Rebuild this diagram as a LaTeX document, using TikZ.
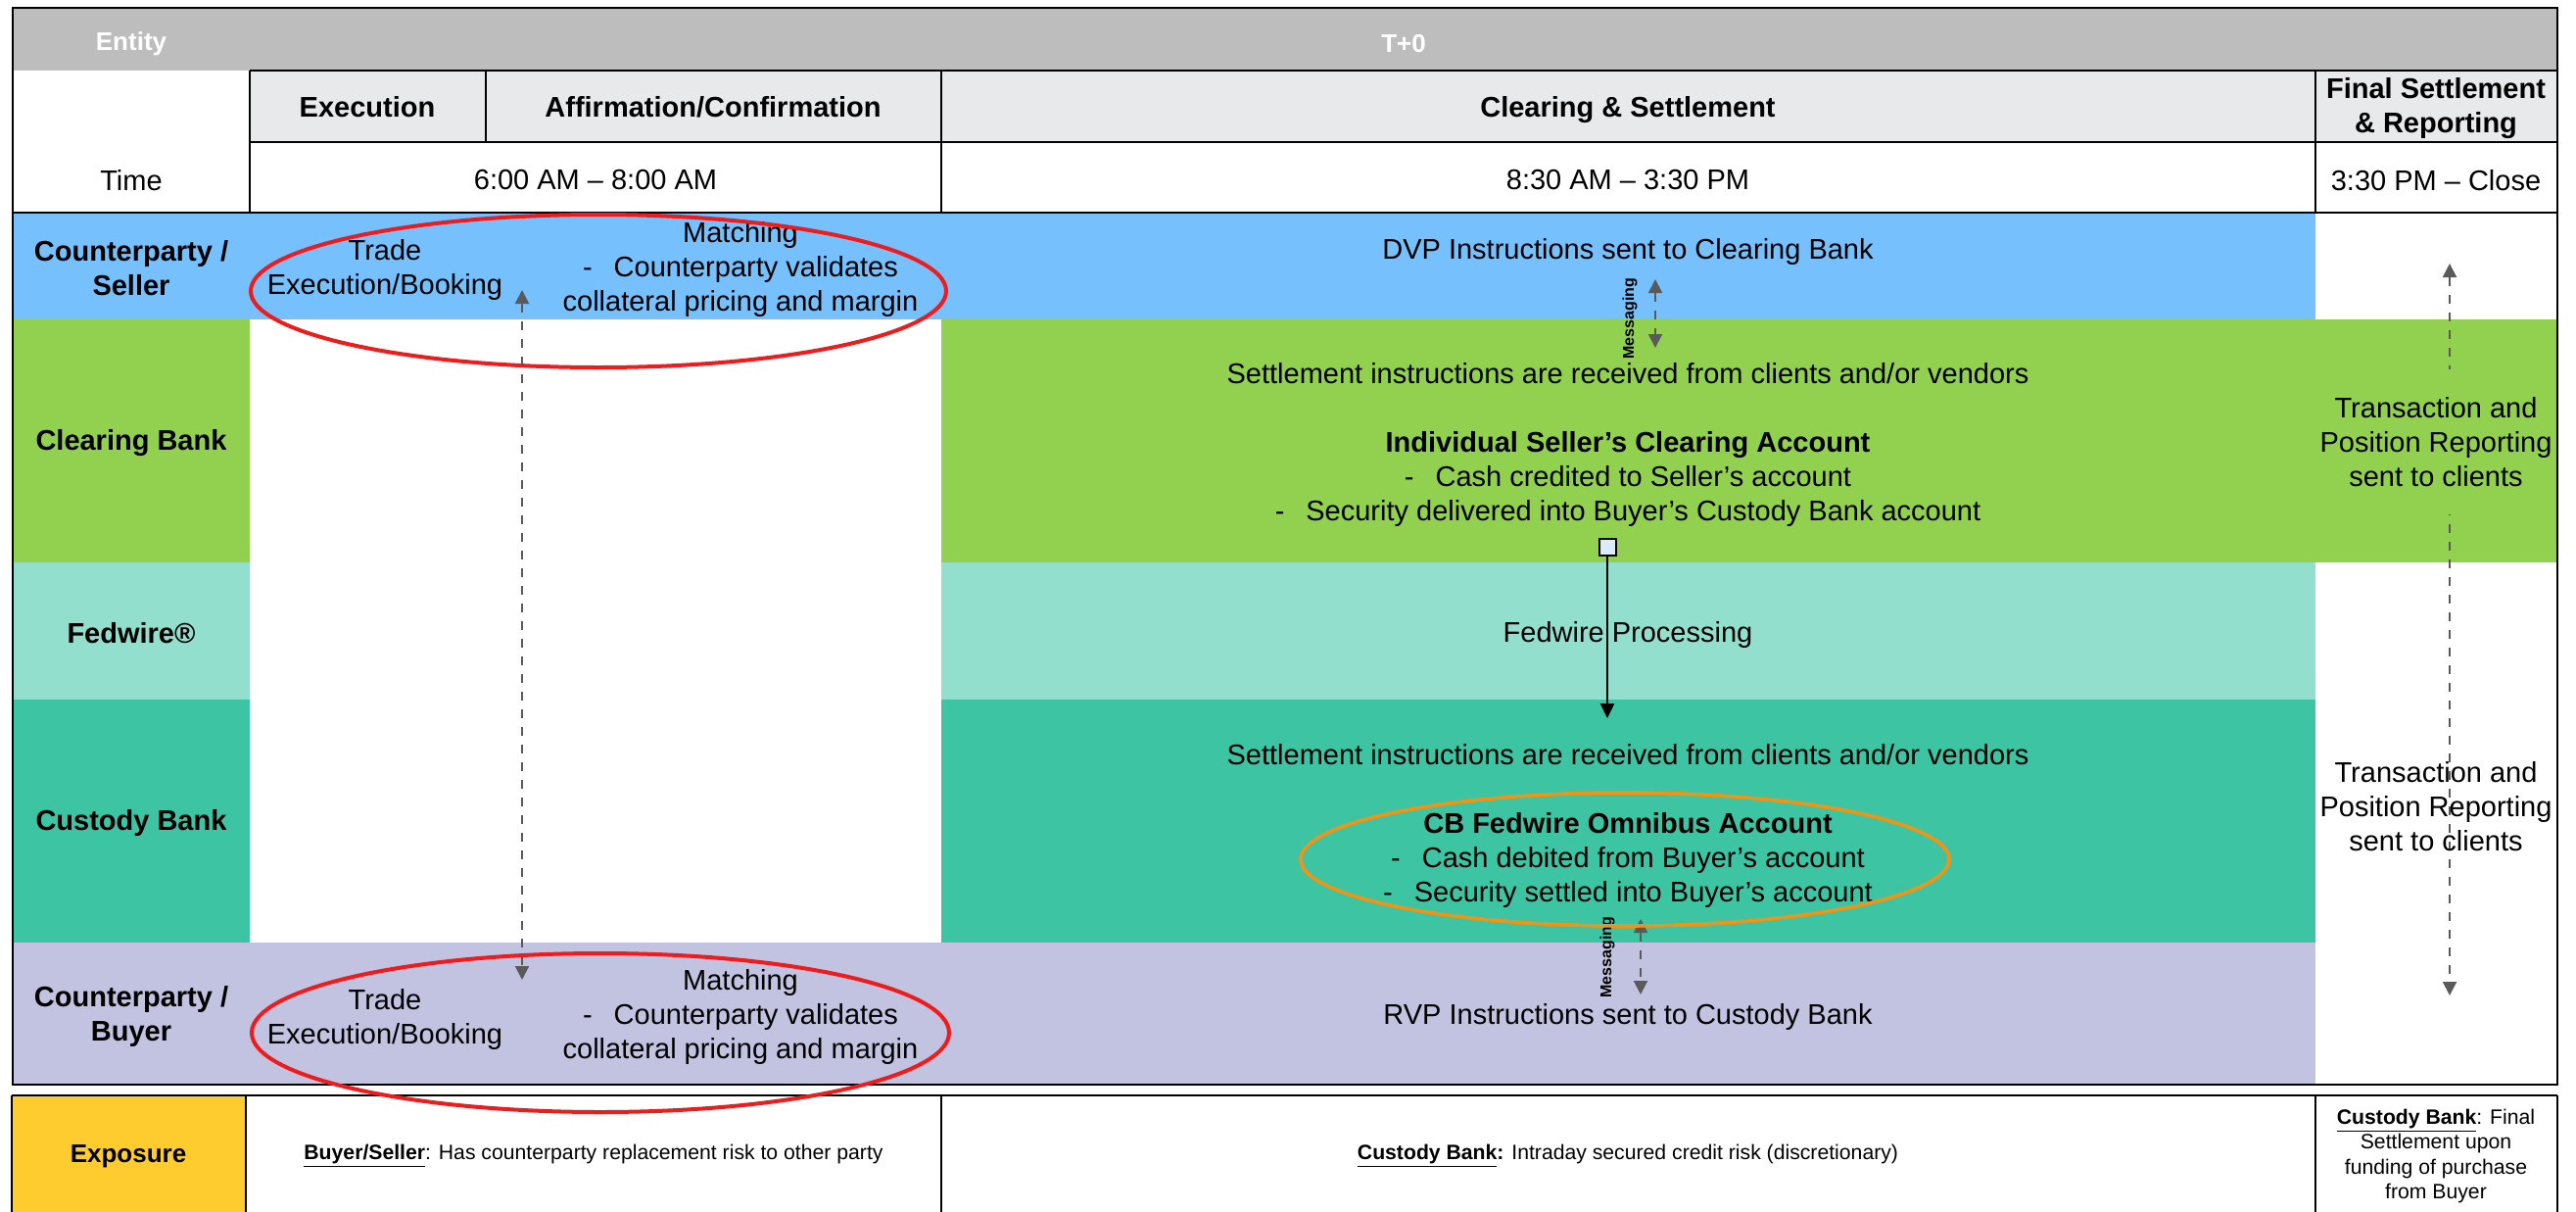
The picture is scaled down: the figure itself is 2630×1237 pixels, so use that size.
\documentclass[tikz,border=0pt]{standalone}
\usepackage{fontspec}
\setmainfont{Liberation Sans}
\usepackage{tikz}
\usetikzlibrary{arrows.meta,positioning}

\definecolor{headGrey}{HTML}{BDBDBD}
\definecolor{subGrey}{HTML}{E8E9EB}
\definecolor{sellerBlue}{HTML}{75C0FD}
\definecolor{clearGreen}{HTML}{92D050}
\definecolor{fedTeal}{HTML}{93DFCE}
\definecolor{custTeal}{HTML}{3DC4A3}
\definecolor{buyerLav}{HTML}{C1C3E1}
\definecolor{expYellow}{HTML}{FFCC2F}
\definecolor{arrowGrey}{HTML}{5A5A5A}
\definecolor{ringRed}{HTML}{EE1C1C}
\definecolor{ringOrange}{HTML}{F39314}
\definecolor{boxBlue}{HTML}{DCEBFA}

\begin{document}
\begin{tikzpicture}[x=0.5pt,y=-0.5pt,>={Triangle[length=7pt,width=7pt]},
        txt/.style={font=\fontsize{14.5}{17.5}\selectfont,align=center,inner sep=0pt},
        boldtxt/.style={txt,font=\fontsize{14.5}{17.5}\selectfont\bfseries},
        headtxt/.style={font=\fontsize{13}{15.6}\selectfont\bfseries,inner sep=0pt},
        smalltxt/.style={font=\fontsize{10.6}{12.7}\selectfont,align=center,inner sep=0pt},
        msg/.style={<->,dash pattern=on 4.5pt off 4.5pt,line width=1pt,draw=arrowGrey},
        msglabel/.style={font=\fontsize{8}{9.6}\selectfont\bfseries,rotate=90,inner sep=0pt},
        tableRule/.style={line width=1pt},
        tableFrame/.style={line width=1.3pt},
        ringLine/.style={line width=2pt}]

        \useasboundingbox (0,0) rectangle (2630,1237);
        \fill[white] (0,0) rectangle (2630,1237);

        % --- Row bands ---
        \fill[headGrey] (13,8) rectangle (2611,72);
        \fill[subGrey] (255,72) rectangle (2611,145);
        \fill[sellerBlue] (13,217) rectangle (2364,326);
        \fill[clearGreen] (13,326) rectangle (255,574);
        \fill[clearGreen] (961,326) rectangle (2611,574);
        \fill[fedTeal] (13,574) rectangle (255,714);
        \fill[fedTeal] (961,574) rectangle (2364,714);
        \fill[custTeal] (13,714) rectangle (255,962);
        \fill[custTeal] (961,714) rectangle (2364,962);
        \fill[buyerLav] (13,962) rectangle (2364,1107);
        \fill[expYellow] (12,1118) rectangle (251,1237);

        % --- Table lines ---
        \draw[tableFrame] (13,8) rectangle (2611,1107);
        \draw[tableRule] (255,72) -- (2611,72);
        \draw[tableRule] (255,145) -- (2611,145);
        \draw[tableRule] (13,217) -- (2611,217);
        \draw[tableRule] (255,72) -- (255,217);
        \draw[tableRule] (496,72) -- (496,145);
        \draw[tableRule] (961,72) -- (961,217);
        \draw[tableRule] (2364,72) -- (2364,217);

        % Exposure row lines
        \draw[tableFrame] (12,1118) -- (2611,1118);
        \draw[tableFrame] (12,1118) -- (12,1237);
        \draw[tableRule] (251,1118) -- (251,1237);
        \draw[tableRule] (961,1118) -- (961,1237);
        \draw[tableRule] (2364,1118) -- (2364,1237);
        \draw[tableFrame] (2611,1118) -- (2611,1237);

        % --- Header ---
        \node[headtxt,text=white] (entity) at (134,45) {Entity};
        \node[headtxt,text=white] (tzero) at (1433,45) {T+0};
        \node[boldtxt,anchor=base] (execHead) at (375,119) {Execution};
        \node[boldtxt,anchor=base] (affirmHead) at (728,119) {Affirmation/Confirmation};
        \node[boldtxt,anchor=base] (clearHead) at (1662,119) {Clearing \& Settlement};
        \node[boldtxt] (finalHead) at (2487,111) {Final Settlement\\\& Reporting};
        \node[txt] (timeLabel) at (134,184) {Time};
        \node[txt] (timeAM) at (608,184) {6:00 AM -- 8:00 AM};
        \node[txt] (timeMid) at (1662,184) {8:30 AM -- 3:30 PM};
        \node[txt] (timePM) at (2487,184) {3:30 PM -- Close};

        % --- Arrow end points ---
        \coordinate (execTop) at (533,296);
        \coordinate (execBot) at (533,1000);
        \coordinate (msgTopA) at (1690,285);
        \coordinate (msgTopB) at (1690,355);
        \coordinate (msgBotA) at (1675,938);
        \coordinate (msgBotB) at (1675,1015);
        \coordinate (reportUp) at (2501,269);
        \coordinate (reportDown) at (2501,1016);
        \coordinate (fedArrowEnd) at (1641,733);

        % Trade execution link between seller and buyer
        \draw[msg] (execTop) -- (execBot);
        % Reporting link
        \draw[msg] (reportUp) -- (reportDown);

        % --- Counterparty / Seller ---
        \node[boldtxt] (sellerLabel) at (134,274) {Counterparty /\\Seller};
        \node[txt] (sellerTrade) at (393,275) {Trade\\Execution/Booking};
        \node[txt] (sellerMatch) at (756,275) {Matching\\-\hspace{11pt}Counterparty validates\\collateral pricing and margin};
        \node[txt] (dvpText) at (1662,257) {DVP Instructions sent to Clearing Bank};

        % Messaging seller to clearing bank
        \draw[msg] (msgTopA) -- (msgTopB);
        \node[msglabel] (msgTop) at (1664,325) {Messaging};

        % --- Clearing Bank ---
        \node[boldtxt] (clearLabel) at (134,452) {Clearing Bank};
        \node[txt] (clearText) at (1662,454) {Settlement instructions are received from clients and/or vendors\\[17.5pt]\textbf{Individual Seller's Clearing Account}\\-\hspace{11pt}Cash credited to Seller's account\\-\hspace{11pt}Security delivered into Buyer's Custody Bank account};
        \node[txt,fill=clearGreen,inner xsep=2pt,inner ysep=14pt] (reportTop) at (2487,451) {Transaction and\\Position Reporting\\sent to clients};

        % Fedwire transfer
        \node[draw,fill=boxBlue,minimum size=8.5pt,inner sep=0pt,line width=1pt] (cbBox) at (1641,558) {};
        \draw[-{Triangle[length=7.5pt,width=7pt]},line width=1.2pt] (cbBox) -- (fedArrowEnd);

        % --- Fedwire ---
        \node[boldtxt] (fedLabel) at (134,646) {Fedwire\textregistered};
        \node[txt] (fedText) at (1662,648) {Fedwire Processing};

        % --- Custody Bank ---
        \node[boldtxt] (custLabel) at (134,840) {Custody Bank};
        \node[txt] (custText) at (1662,843) {Settlement instructions are received from clients and/or vendors\\[17.5pt]\textbf{CB Fedwire Omnibus Account}\\-\hspace{11pt}Cash debited from Buyer's account\\-\hspace{11pt}Security settled into Buyer's account};
        \node[txt] (reportBottom) at (2487,823) {Transaction and\\Position Reporting\\sent to clients};

        % Messaging custody bank to buyer
        \draw[msg] (msgBotA) -- (msgBotB);
        \node[msglabel] (msgBot) at (1641,977) {Messaging};

        % --- Counterparty / Buyer ---
        \node[boldtxt] (buyerLabel) at (134,1037) {Counterparty /\\Buyer};
        \node[txt] (buyerTrade) at (393,1040) {Trade\\Execution/Booking};
        \node[txt] (buyerMatch) at (756,1038) {Matching\\-\hspace{11pt}Counterparty validates\\collateral pricing and margin};
        \node[txt] (rvpText) at (1662,1038) {RVP Instructions sent to Custody Bank};

        % --- Exposure ---
        \node[headtxt] (expLabel) at (131,1180) {Exposure};
        \node[smalltxt] (expTrade) at (606,1180) {\textbf{\underline{Buyer/Seller}}: Has counterparty replacement risk to other party};
        \node[smalltxt] (expClear) at (1662,1180) {\textbf{\underline{Custody Bank}:} Intraday secured credit risk (discretionary)};
        \node[smalltxt] (expFinal) at (2487,1180) {\textbf{\underline{Custody Bank}}: Final\\Settlement upon\\funding of purchase\\from Buyer};

        % Highlight rings
        \draw[ringLine,ringRed] (611,297) ellipse [x radius=355,y radius=78];
        \draw[ringLine,ringRed] (613,1054) ellipse [x radius=356,y radius=81];
        \draw[ringLine,ringOrange,line width=1.8pt] (1659,877) ellipse [x radius=331,y radius=68];

    \end{tikzpicture}
\end{document}
